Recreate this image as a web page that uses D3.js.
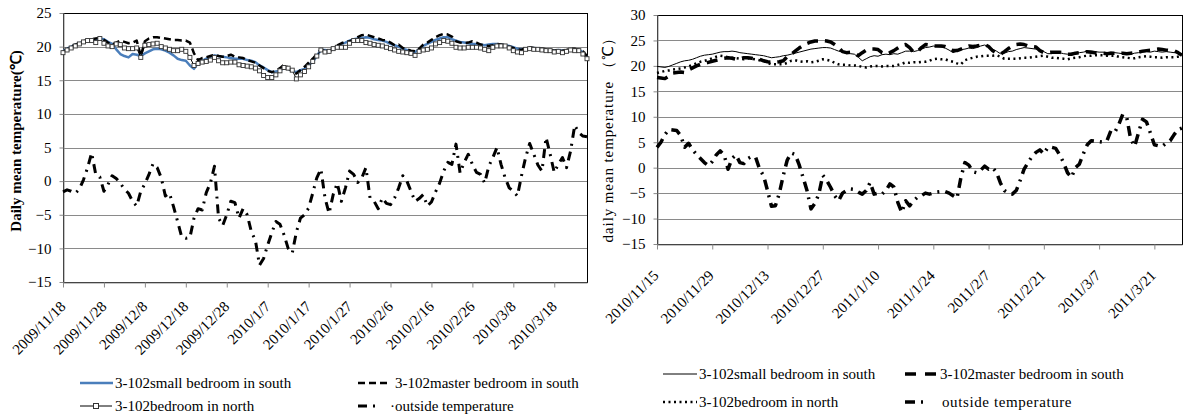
<!DOCTYPE html>
<html>
<head>
<meta charset="utf-8">
<script src="https://cdn.jsdelivr.net/npm/d3@7"></script>
<style>
    body { margin: 0; background: #fff; }
    svg text { font-family: "Liberation Serif", "Times New Roman", serif; fill: #000; }
</style>
</head>
<body>
<svg id="chart" width="1184" height="417"></svg>
<script>
// ---- left chart: winter 2009/2010 (daily values from 2009/11/18) ----
let leftStart = "2009/11/18";
let leftTicks = ["2009/11/18", "2009/11/28", "2009/12/8", "2009/12/18", "2009/12/28", "2010/1/7",
    "2010/1/17", "2010/1/27", "2010/2/6", "2010/2/16", "2010/2/26", "2010/3/8", "2010/3/18"];
let leftYTicks = [-15, -10, -5, 0, 5, 10, 15, 20, 25];

let leftSmallSouth = [
    19.3, 19.7, 20.0, 20.3, 20.5, 20.7, 20.9, 21.0, 21.1, 21.2,
    21.1, 20.7, 20.4, 19.6, 18.9, 18.6, 18.4, 18.9, 18.8, 18.6,
    19.0, 19.3, 19.6, 19.7, 19.6, 19.4, 19.1, 18.7, 18.2, 18.0,
    17.9, 17.2, 16.7, 17.6, 17.9, 18.2, 18.5, 18.7, 18.6, 18.5,
    18.4, 18.3, 18.2, 18.2, 18.2, 18.0, 17.9, 17.7, 17.2, 16.9,
    16.5, 16.2, 16.3, 16.4, 16.9, 16.7, 16.4, 16.2, 16.5, 16.7,
    17.3, 17.7, 18.6, 19.5, 19.5, 19.4, 19.6, 20.0, 20.4, 20.6,
    20.9, 21.1, 21.2, 21.3, 21.4, 21.3, 21.1, 21.0, 20.9, 20.7,
    20.4, 20.2, 20.0, 19.7, 19.5, 19.3, 19.2, 19.6, 20.1, 20.4,
    20.7, 21.0, 21.2, 21.4, 21.4, 21.1, 20.9, 20.7, 20.6, 20.5,
    20.4, 20.4, 20.3, 20.2, 20.3, 20.4, 20.4, 20.3, 20.2, 20.1,
    19.9, 19.7, 19.6, 19.7, 19.8, 19.8, 19.7, 19.6, 19.5, 19.4,
    19.4, 19.5, 19.4, 19.4, 19.5, 19.6, 19.5, 19.2, 18.5];
let leftMasterSouth = [
    19.2, 19.6, 20.0, 20.3, 20.5, 20.8, 21.0, 21.1, 21.2, 21.3,
    21.0, 20.6, 20.3, 20.6, 20.9, 20.7, 20.5, 20.6, 20.9, 18.6,
    20.8, 21.2, 21.4, 21.4, 21.3, 21.2, 21.1, 21.0, 21.0, 20.9,
    20.9, 20.6, 19.0, 18.0, 18.3, 18.4, 18.6, 18.8, 18.6, 18.5,
    18.6, 18.8, 18.5, 18.4, 18.3, 18.0, 17.8, 17.6, 17.2, 16.8,
    16.4, 16.2, 16.4, 16.8, 17.3, 16.9, 16.2, 16.0, 16.5, 17.0,
    17.6, 18.2, 18.9, 19.6, 19.3, 19.2, 19.8, 20.2, 20.5, 20.7,
    20.8, 21.0, 21.4, 21.7, 21.8, 21.6, 21.4, 21.2, 21.0, 20.9,
    20.6, 20.2, 20.3, 19.8, 19.6, 19.4, 19.3, 19.7, 20.3, 20.6,
    21.0, 21.4, 21.7, 21.9, 21.8, 21.5, 20.8, 20.6, 20.5, 20.6,
    20.8, 20.6, 20.3, 20.2, 20.1, 20.2, 20.4, 20.3, 20.2, 20.0,
    19.8, 19.6, 19.5, 19.8, 19.9, 19.8, 19.6, 19.7, 19.6, 19.5,
    19.4, 19.5, 19.4, 19.5, 19.7, 19.7, 19.5, 19.3, 18.6];
let leftNorth = [
    19.1, 19.5, 19.8, 20.1, 20.4, 20.7, 20.9, 20.9, 20.6, 21.2,
    20.5, 20.1, 20.0, 20.4, 20.3, 19.8, 19.7, 19.7, 19.8, 18.4,
    20.2, 20.3, 20.4, 20.5, 20.0, 19.8, 19.6, 19.4, 19.4, 19.6,
    19.3, 18.4, 17.2, 17.5, 17.7, 17.8, 18.0, 18.4, 17.9, 17.6,
    17.6, 17.7, 17.7, 17.3, 17.2, 17.1, 17.0, 16.8, 16.4, 15.7,
    15.4, 15.4, 15.8, 16.4, 16.9, 16.8, 16.5, 15.2, 15.8, 16.3,
    17.0, 17.8, 18.6, 19.5, 19.2, 19.3, 19.7, 19.9, 19.9, 19.9,
    20.5, 20.9, 20.9, 20.9, 20.6, 20.5, 20.3, 20.2, 20.1, 19.9,
    19.7, 19.5, 19.3, 19.2, 19.1, 19.0, 18.7, 19.3, 19.5, 19.6,
    19.8, 20.4, 20.6, 20.9, 20.8, 20.5, 19.9, 19.8, 19.8, 19.9,
    19.9, 19.9, 19.8, 19.6, 19.4, 19.9, 20.1, 20.1, 20.1, 19.8,
    19.4, 19.2, 19.1, 19.6, 19.7, 19.6, 19.6, 19.5, 19.4, 19.4,
    19.2, 19.3, 19.1, 19.3, 19.5, 19.4, 19.4, 18.9, 18.2];
let leftOutside = [
    -1.6, -1.3, -1.5, -1.8, -1.2, 0.2, 2.0, 4.2, 1.0, 0.6,
    -1.5, -0.5, 0.8, 0.4, -0.3, -1.2, -1.8, -3.0, -3.7, -1.5,
    -0.4, 1.0, 2.6, 2.0, 0.5, -2.2, -1.8, -3.8, -6.0, -8.3,
    -8.5, -8.4, -5.5, -4.1, -4.3, -1.7, -0.3, 2.2, -5.5, -6.6,
    -5.0, -3.0, -3.2, -5.5, -4.1, -5.0, -7.5, -8.8, -12.5, -11.5,
    -9.5, -7.7, -6.0, -6.4, -8.0, -10.0, -10.7, -7.6, -5.5, -5.0,
    -4.0, -1.8, 0.5, 1.8, -2.5, -4.8, -2.0, -0.3, -3.0, -1.0,
    1.5, 1.0, -0.2, 0.5, 2.0, -2.5, -3.0, -4.1, -2.5, -3.3,
    -3.5, -2.5, -1.0, 0.8, 0.0, -1.5, -3.0, -2.6, -2.0, -3.7,
    -3.1, -1.6, -0.3, 1.5, 2.8, 2.5, 5.5, 1.2, 2.8, 4.0,
    2.5, 1.3, 1.0, -0.3, 2.2, 3.5, 5.0, 2.5, 0.5, -1.0,
    -1.5, -2.2, 0.8, 3.5, 5.6, 4.0, 2.4, 1.5, 6.5, 4.0,
    1.3, 2.5, 3.5, 2.0, 4.5, 8.3, 7.2, 6.7, 6.6];

// ---- right chart: winter 2010/2011 (daily values from 2010/11/15) ----
let rightStart = "2010/11/15";
let rightTicks = ["2010/11/15", "2010/11/29", "2010/12/13", "2010/12/27", "2011/1/10",
    "2011/1/24", "2011/2/7", "2011/2/21", "2011/3/7", "2011/3/21"];
let rightYTicks = [-15, -10, -5, 0, 5, 10, 15, 20, 25, 30];

let rightSmallSouth = [
    19.9, 19.8, 19.7, 19.9, 20.2, 20.5, 20.8, 21.0, 21.1, 21.3,
    21.6, 21.9, 22.1, 22.2, 22.3, 22.5, 22.7, 22.8, 22.8, 22.9,
    22.8, 22.6, 22.5, 22.4, 22.3, 22.2, 22.1, 22.0, 21.8, 21.6,
    21.7, 21.8, 22.0, 22.1, 22.3, 22.5, 22.7, 22.9, 23.1, 23.3,
    23.4, 23.5, 23.6, 23.6, 23.5, 23.2, 22.9, 22.7, 22.5, 22.4,
    22.3, 21.7, 21.0, 21.4, 21.8, 22.0, 21.9, 22.2, 22.3, 22.2,
    22.4, 22.3, 22.6, 22.9, 22.9, 22.8, 23.0, 23.3, 23.6, 23.7,
    23.9, 23.8, 23.7, 23.5, 23.1, 22.6, 22.9, 23.2, 23.3, 23.5,
    23.4, 23.6, 23.9, 24.1, 23.8, 23.3, 22.9, 22.4, 22.5, 22.8,
    22.9, 23.2, 23.4, 23.6, 23.5, 23.4, 23.3, 23.2, 22.8, 22.4,
    22.4, 22.6, 22.6, 22.4, 22.3, 22.5, 22.6, 22.6, 22.7, 22.9,
    22.9, 22.8, 22.7, 22.7, 22.6, 22.7, 22.6, 22.5, 22.4, 22.4,
    22.3, 22.5, 22.6, 22.7, 22.8, 22.7, 22.9, 22.8, 22.7, 22.8,
    22.7, 22.6, 22.6, 22.1];
let rightMasterSouth = [
    17.7, 17.6, 17.5, 18.0, 18.6, 18.7, 18.8, 18.7, 19.2, 19.6,
    20.0, 20.3, 20.5, 20.7, 20.9, 21.1, 21.3, 21.5, 21.6, 21.5,
    21.3, 21.4, 21.6, 21.6, 21.5, 21.4, 21.3, 21.0, 20.8, 20.7,
    20.7, 20.8, 21.0, 21.8, 22.3, 22.9, 23.5, 24.0, 24.4, 24.7,
    24.9, 24.9, 25.0, 24.9, 24.7, 24.2, 23.6, 22.8, 22.6, 22.7,
    22.4, 22.0, 22.6, 23.1, 23.3, 23.3, 23.2, 22.6, 22.3, 22.6,
    23.0, 23.5, 24.0, 24.2, 23.6, 22.7, 22.8, 23.6, 24.2, 24.1,
    23.9, 23.9, 23.9, 23.8, 23.5, 23.0, 23.0, 23.3, 23.6, 23.9,
    23.8, 23.9, 24.1, 24.2, 23.8, 23.0, 22.5, 22.3, 22.8, 23.4,
    23.9, 24.2, 24.3, 24.2, 23.9, 23.8, 23.7, 23.0, 22.6, 22.6,
    22.7, 22.7, 22.7, 22.5, 22.3, 22.3, 22.5, 22.6, 22.7, 22.8,
    22.7, 22.6, 22.6, 22.5, 22.4, 22.5, 22.5, 22.4, 22.5, 22.4,
    22.5, 22.6, 22.7, 22.9, 23.0, 23.1, 23.2, 23.3, 23.2, 23.1,
    23.0, 23.0, 22.6, 22.1];
let rightNorth = [
    18.6, 18.8, 19.0, 19.1, 19.3, 19.4, 19.5, 19.7, 19.9, 20.2,
    20.5, 20.8, 21.0, 21.2, 21.5, 21.8, 22.0, 21.9, 21.7, 21.6,
    21.5, 21.4, 21.3, 21.5, 21.4, 21.3, 21.1, 21.0, 20.6, 20.3,
    20.3, 20.3, 20.3, 20.6, 21.0, 21.1, 20.9, 20.8, 20.9, 20.7,
    20.8, 21.0, 21.3, 21.2, 21.0, 20.6, 20.3, 20.2, 20.2, 20.1,
    20.1, 20.0, 19.8, 19.7, 19.9, 20.0, 20.0, 19.9, 20.0, 20.0,
    20.0, 20.2, 20.4, 20.7, 20.6, 20.7, 20.7, 20.8, 20.8, 21.0,
    21.3, 21.4, 21.3, 21.3, 21.0, 20.8, 20.5, 20.3, 21.1, 21.4,
    21.6, 21.8, 21.9, 22.0, 22.0, 22.0, 22.1, 21.8, 21.4, 21.4,
    21.4, 21.4, 21.5, 21.6, 21.6, 21.7, 21.8, 21.9, 22.0, 21.8,
    21.6, 21.6, 21.5, 21.4, 21.3, 21.5, 21.6, 21.7, 21.9, 22.0,
    22.0, 22.1, 22.1, 22.1, 22.0, 22.0, 22.0, 21.8, 21.7, 21.6,
    21.5, 21.5, 21.7, 21.8, 21.9, 21.8, 21.7, 21.7, 21.6, 21.7,
    21.7, 21.7, 21.8, 21.8];
let rightOutside = [
    4.0, 5.0, 6.5, 7.5, 7.4, 7.3, 6.3, 4.0, 4.8, 3.5,
    2.6, 1.8, 1.0, 0.4, 1.2, 2.5, 3.3, 2.5, -0.3, 1.8,
    2.5, 1.0, 0.8, 1.8, 2.2, 2.0, -0.3, -1.6, -4.5, -7.6,
    -7.5, -5.0, -1.5, 1.5, 2.9, 2.6, 0.6, -1.9, -4.5, -8.1,
    -7.0, -5.2, -1.5, -2.5, -3.9, -5.5, -6.5, -5.0, -4.5, -4.2,
    -4.3, -4.8, -5.2, -4.5, -2.9, -5.2, -5.0, -5.2, -4.5, -3.2,
    -3.8, -6.8, -8.8, -6.5, -7.5, -6.5, -5.8, -5.5, -5.0, -5.2,
    -5.0, -4.8, -4.7, -4.7, -5.0, -5.5, -6.0, -1.9, 1.0, 0.5,
    -0.8, -1.0, -0.5, 0.3, -0.3, 0.0, -0.9, -3.0, -4.5, -5.0,
    -5.2, -4.5, -2.5, -0.3, 1.0, 2.2, 3.0, 3.5, 2.7, 4.0,
    4.0, 3.8, 2.5, 1.0, -1.0, -1.9, 0.0, 0.7, 2.7, 4.5,
    5.3, 5.2, 5.1, 5.0, 5.3, 7.3, 7.0, 8.5, 10.5, 9.9,
    5.6, 4.2, 6.9, 9.5, 9.0, 6.8, 4.5, 4.3, 4.2, 4.8,
    5.3, 6.5, 7.5, 7.8];

let parseDate = d3.timeParse("%Y/%m/%d");
let formatDate = d3.timeFormat("%Y/%-m/%-d");

class TempChart {
    constructor(svg, config) {
        this.svg = svg;
        Object.assign(this, config);
        this.initVis();
    }

    initVis() {
        let vis = this;
        let start = parseDate(vis.start);
        let days = vis.series[0].values.length - 1;

        vis.x = d3.scaleTime()
            .domain([start, d3.timeDay.offset(start, days)])
            .range([vis.box.left, vis.box.right]);
        vis.y = d3.scaleLinear()
            .domain(d3.extent(vis.yTicks))
            .range([vis.box.bottom, vis.box.top]);

        let g = vis.svg.append("g");

        // horizontal grid lines
        g.append("g").selectAll("line")
            .data(vis.yTicks.slice(1, -1))
            .enter().append("line")
            .attr("x1", vis.box.left).attr("x2", vis.box.right)
            .attr("y1", d => Math.round(vis.y(d)) + 0.5)
            .attr("y2", d => Math.round(vis.y(d)) + 0.5)
            .attr("stroke", "#8a8a8a");

        // plot frame
        g.append("rect")
            .attr("x", vis.box.left + 0.5).attr("y", vis.box.top + 0.5)
            .attr("width", vis.box.right - vis.box.left)
            .attr("height", vis.box.bottom - vis.box.top)
            .attr("fill", "none").attr("stroke", "#000");

        // axes
        let xAxis = g.append("g")
            .attr("transform", `translate(0,${vis.box.bottom + 0.5})`)
            .call(d3.axisBottom(vis.x)
                .tickValues(vis.xTicks.map(parseDate))
                .tickFormat(formatDate)
                .tickSize(5).tickSizeOuter(0));
        xAxis.selectAll("text")
            .attr("x", 0).attr("y", 0).attr("dy", 0)
            .attr("text-anchor", "end")
            .attr("transform", `translate(${vis.labelShift[0]},${vis.labelShift[1]}) rotate(-45)`);

        let yAxis = g.append("g")
            .attr("transform", `translate(${vis.box.left + 0.5},0)`)
            .call(d3.axisLeft(vis.y).tickValues(vis.yTicks).tickSize(4).tickSizeOuter(0).tickPadding(8));

        [xAxis, yAxis].forEach(a => {
            a.select(".domain").attr("stroke", "#8a8a8a");
            a.selectAll(".tick line").attr("stroke", "#8a8a8a");
            a.selectAll("text")
                .style("font-family", '"Liberation Serif", serif')
                .style("font-size", "15px").attr("fill", "#000");
        });

        // y title
        g.append("text")
            .attr("transform", `translate(${vis.title.x},${vis.title.y}) rotate(-90)`)
            .attr("text-anchor", "middle")
            .style("font-size", "15px")
            .style("font-weight", vis.title.bold ? "bold" : "normal")
            .style("letter-spacing", vis.title.spacing + "px")
            .text(vis.title.text);

        // series lines
        let line = d3.line()
            .x((d, i) => vis.x(d3.timeDay.offset(start, i)))
            .y(d => vis.y(d));

        vis.series.forEach(s => {
            g.append("path")
                .attr("d", line(s.values))
                .attr("fill", "none")
                .attr("stroke", s.color)
                .attr("stroke-width", s.width)
                .attr("stroke-dasharray", s.dash)
                .attr("stroke-linejoin", "round");

            if (s.marker) {
                g.append("g").selectAll("rect")
                    .data(s.values)
                    .enter().append("rect")
                    .attr("x", (d, i) => vis.x(d3.timeDay.offset(start, i)) - 2)
                    .attr("y", d => vis.y(d) - 2)
                    .attr("width", 4).attr("height", 4)
                    .attr("fill", "#fff").attr("stroke", "#333").attr("stroke-width", 0.9);
            }

            // legend entry
            let lg = g.append("g");
            lg.append("line")
                .attr("x1", s.legend[0]).attr("x2", s.legend[0] + s.legend[2])
                .attr("y1", s.legend[1]).attr("y2", s.legend[1])
                .attr("stroke", s.color)
                .attr("stroke-width", s.width)
                .attr("stroke-dasharray", s.legendDash || s.dash);
            if (s.marker) {
                lg.append("rect")
                    .attr("x", s.legend[0] + s.legend[2] / 2 - 2.5).attr("y", s.legend[1] - 2.5)
                    .attr("width", 5).attr("height", 5)
                    .attr("fill", "#fff").attr("stroke", "#333");
            }
            lg.append("text")
                .attr("x", s.legend[3]).attr("y", s.legend[1] + 5)
                .style("font-size", "15px")
                .style("letter-spacing", (s.legendSpacing || 0) + "px")
                .text(s.name);
        });
    }
}

let svg = d3.select("#chart");
svg.append("rect").attr("width", 1184).attr("height", 417).attr("fill", "#fff");

let leftChart = new TempChart(svg, {
    start: leftStart,
    xTicks: leftTicks,
    yTicks: leftYTicks,
    box: {left: 63, right: 587, top: 13, bottom: 282},
    labelShift: [3, 25],
    title: {text: "Daily mean temperature(℃)", x: 21, y: 141, bold: true, spacing: 0},
    series: [
        {name: "3-102small bedroom in south", values: leftSmallSouth, color: "#4a7ebb", width: 2.5, dash: null,
            legend: [80, 383, 33, 115]},
        {name: "3-102master bedroom in south", values: leftMasterSouth, color: "#000", width: 2.5, dash: "7,4",
            legend: [358, 383, 33, 395]},
        {name: "3-102bedroom in north", values: leftNorth, color: "#000", width: 1, dash: null, marker: true,
            legend: [80, 406, 32, 115]},
        {name: "·outside temperature", values: leftOutside, color: "#000", width: 3, dash: "9,6,2,6",
            legend: [358, 406, 20, 390], legendDash: null}
    ]
});

let rightChart = new TempChart(svg, {
    start: rightStart,
    xTicks: rightTicks,
    yTicks: rightYTicks,
    box: {left: 657, right: 1182, top: 15, bottom: 244},
    labelShift: [2, 32],
    title: {text: "daily mean temperature （℃）", x: 613, y: 136, bold: false, spacing: 0.9},
    series: [
        {name: "3-102small bedroom in south", values: rightSmallSouth, color: "#000", width: 1, dash: null,
            legend: [663, 374, 34, 699]},
        {name: "3-102master bedroom in south", values: rightMasterSouth, color: "#000", width: 3.5, dash: "11,7",
            legend: [905, 374, 31, 940], legendDash: "11,9"},
        {name: "3-102bedroom in north", values: rightNorth, color: "#000", width: 2.5, dash: "2,3.5",
            legend: [663, 402, 34, 699]},
        {name: "outside temperature", values: rightOutside, color: "#000", width: 3.5, dash: "10,6,2,6",
            legend: [905, 402, 22, 942], legendDash: null, legendSpacing: 0.6}
    ]
});
</script>
</body>
</html>
